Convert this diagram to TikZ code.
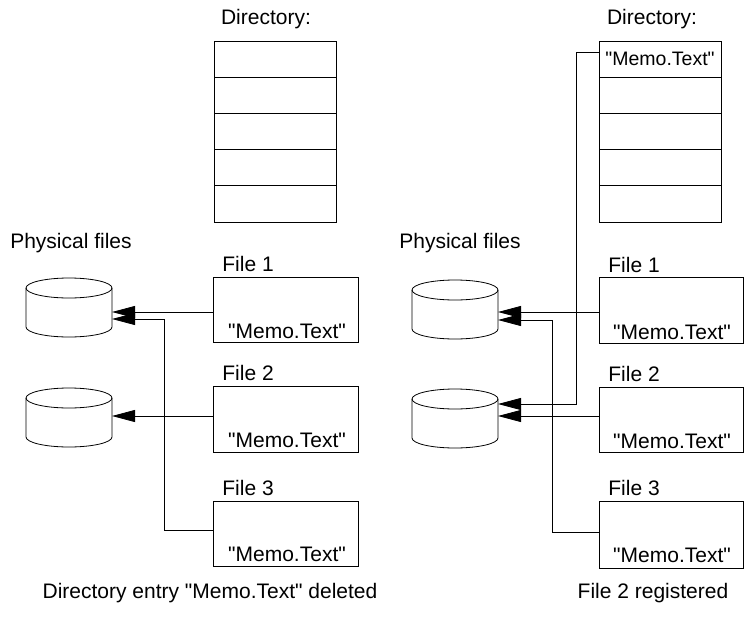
\documentclass[tikz,border=0pt]{standalone}
\usepackage{fontspec}
\newfontfamily\plainsans{Liberation Sans}
\usetikzlibrary{arrows.meta}
\begin{document}
\begin{tikzpicture}[x=1pt,y=-1pt,
  line width=0.8pt,
  lbl/.style={font=\plainsans\fontsize{21}{25}\selectfont, inner sep=0pt},
  smalllbl/.style={font=\plainsans\fontsize{19.5}{23}\selectfont, inner sep=0pt},
  row/.style={draw, minimum width=122pt, minimum height=36.2pt, inner sep=0pt, outer sep=0pt},
  filebox/.style={draw, inner sep=0pt, outer sep=0pt},
  cylspace/.style={minimum width=86pt, minimum height=59pt, inner sep=0pt, outer sep=0pt},
  arr/.style={-{Triangle[length=23pt,width=12pt]}}
]
\useasboundingbox (0,0) rectangle (744,629);

% ---------------- Left half ----------------
\node[lbl] (ldirlbl) at (266,19) {Directory:};
\foreach \i in {1,...,5} {
  \node[row] (ld\i) at (275,{41+18.1+(\i-1)*36.2}) {};
}
\node[lbl] (lphys) at (71,243) {Physical files};

% cylinders (left)
\node[cylspace] (lc1) at (69,307.5) {};
\node[cylspace] (lc2) at (69,417.5) {};
\foreach \c/\t in {lc1/288,lc2/398} {
  \draw (26,\t) arc[start angle=180,end angle=540,x radius=43pt,y radius=10pt];
  \draw (26,\t) -- (26,{\t+39}) arc[start angle=180,end angle=360,x radius=43pt,y radius=10pt] -- (112,\t);
}

% file boxes (left)
\node[filebox, minimum width=145pt, minimum height=65pt] (lf1) at (285.5,309.5) {};
\node[filebox, minimum width=145pt, minimum height=66pt] (lf2) at (285.5,419) {};
\node[filebox, minimum width=145pt, minimum height=65pt] (lf3) at (285.5,533.5) {};
\node[lbl, anchor=west] (lf1lbl) at (222,264) {File 1};
\node[lbl, anchor=west] (lf2lbl) at (222,373) {File 2};
\node[lbl, anchor=west] (lf3lbl) at (222,488) {File 3};
\node[lbl] (lm1) at (287,331) {"Memo.Text"};
\node[lbl] (lm2) at (287,440) {"Memo.Text"};
\node[lbl] (lm3) at (287,554) {"Memo.Text"};

% arrows (left)
\draw[arr] ([yshift=-2.5pt]lf1.west) -- ([yshift=-2.5pt]lf1.west -| lc1.east);
\draw[arr] ([yshift=3pt]lf2.west) -- ([yshift=3pt]lf2.west -| lc2.east);
\coordinate (lk3) at (164,319);
\draw[arr] ([yshift=3.5pt]lf3.west) -| (lk3) -- (lk3 -| lc1.east);

\node[lbl] (lcap) at (210,593) {Directory entry "Memo.Text" deleted};

% ---------------- Right half ----------------
\node[lbl] (rdirlbl) at (652,19) {Directory:};
\foreach \i in {1,...,5} {
  \node[row] (rd\i) at (660,{41+18.1+(\i-1)*36.2}) {};
}
\node[smalllbl] (rdm) at (660,59) {"Memo.Text"};
\node[lbl] (rphys) at (460,243) {Physical files};

\node[cylspace] (rc1) at (455,309.5) {};
\node[cylspace] (rc2) at (455,418.5) {};
\foreach \c/\t in {rc1/290,rc2/399} {
  \draw (412,\t) arc[start angle=180,end angle=540,x radius=43pt,y radius=10pt];
  \draw (412,\t) -- (412,{\t+39}) arc[start angle=180,end angle=360,x radius=43pt,y radius=10pt] -- (498,\t);
}

\node[filebox, minimum width=144pt, minimum height=66pt] (rf1) at (671,310) {};
\node[filebox, minimum width=144pt, minimum height=65pt] (rf2) at (671,419.5) {};
\node[filebox, minimum width=144pt, minimum height=67pt] (rf3) at (671,534.5) {};
\node[lbl, anchor=west] (rf1lbl) at (608,265) {File 1};
\node[lbl, anchor=west] (rf2lbl) at (608,374) {File 2};
\node[lbl, anchor=west] (rf3lbl) at (608,488) {File 3};
\node[lbl] (rm1) at (672,332) {"Memo.Text"};
\node[lbl] (rm2) at (672,441) {"Memo.Text"};
\node[lbl] (rm3) at (672,555) {"Memo.Text"};

% arrows (right)
\draw[arr] ([yshift=-2pt]rf1.west) -- ([yshift=-2pt]rf1.west -| rc1.east);
\draw[arr] ([yshift=3.5pt]rf2.west) -- ([yshift=3.5pt]rf2.west -| rc2.east);
\coordinate (rk3) at (552,320);
\draw[arr] ([yshift=2.5pt]rf3.west) -| (rk3) -- (rk3 -| rc1.east);
\coordinate (rkd) at (576,404);
\draw[arr] ([yshift=7pt]rd1.west) -| (rkd) -- (rkd -| rc2.east);

\node[lbl] (rcap) at (653,593) {File 2 registered};
\end{tikzpicture}
\end{document}
